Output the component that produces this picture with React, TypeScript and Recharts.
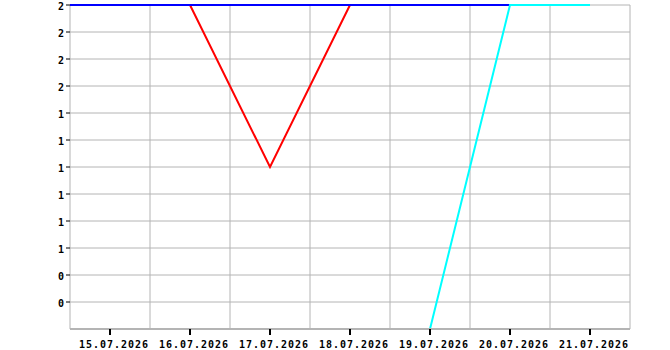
import React from 'react';
import { LineChart, Line, XAxis, YAxis, CartesianGrid } from 'recharts';

const days = ['15.07.2026', '16.07.2026', '17.07.2026', '18.07.2026', '19.07.2026', '20.07.2026', '21.07.2026'];
const blueLead = 2; // value at left edge of view (14.07 noon)
const blue = [2, 2, 2, 2, 2, 2, null];
const red = [null, 2, 1, 2, null, null, null];
const cyan = [null, null, null, null, 0, 2, 2];
const yTicks = [1 / 6, 2 / 6, 3 / 6, 4 / 6, 5 / 6, 1, 7 / 6, 8 / 6, 9 / 6, 10 / 6, 11 / 6, 2];
const dayTicks = [0, 1, 2, 3, 4, 5, 6];
const gridTicks = [-0.5, 0.5, 1.5, 2.5, 3.5, 4.5, 5.5, 6.5];

const data = [
  { x: -0.5, blue: blueLead, red: null, cyan: null },
  ...days.map((d, i) => ({ x: i, blue: blue[i], red: red[i], cyan: cyan[i] })),
];

const xFont = { fontFamily: 'DejaVu Sans Mono', fontWeight: 'bold', fontSize: 10, fill: '#000', letterSpacing: 1, dx: 4 };
const yFont = { fontFamily: 'DejaVu Sans Mono', fontWeight: 'bold', fontSize: 10, fill: '#000', dy: 1 };
const GRID = '#b4b4b4';

export default function App() {
  return (
    <div style={{ position: 'absolute', left: 0, top: 0, background: '#fff' }}>
      <LineChart width={670} height={350} data={data} margin={{ top: 5, right: 40, left: 0, bottom: 0 }}>
        <CartesianGrid stroke={GRID} strokeWidth={1} xAxisId="grid" ticks={gridTicks} />
        <XAxis
          dataKey="x"
          type="number"
          domain={[-0.5, 6.5]}
          ticks={dayTicks}
          tickFormatter={(v: number) => days[v] ?? ''}
          height={21}
          tickSize={6}
          tickMargin={6}
          tick={xFont}
          tickLine={{ stroke: '#000', strokeWidth: 2 }}
          axisLine={{ stroke: GRID, strokeWidth: 2 }}
          interval={0}
        />
        <XAxis xAxisId="grid" dataKey="x" type="number" domain={[-0.5, 6.5]} ticks={gridTicks} hide interval={0} />
        <YAxis
          type="number"
          domain={[0, 2]}
          ticks={yTicks}
          width={70}
          tickSize={4}
          tickMargin={2}
          tick={yFont}
          tickLine={{ stroke: '#000', strokeWidth: 1 }}
          axisLine={false}
          interval={0}
          tickFormatter={(v: number) => String(Math.round(v))}
        />
        <Line dataKey="red" stroke="#ff0000" strokeWidth={2} dot={false} isAnimationActive={false} />
        <Line dataKey="blue" stroke="#0000ff" strokeWidth={2} dot={false} isAnimationActive={false} />
        <Line dataKey="cyan" stroke="#00ffff" strokeWidth={2} dot={false} isAnimationActive={false} />
      </LineChart>
    </div>
  );
}
